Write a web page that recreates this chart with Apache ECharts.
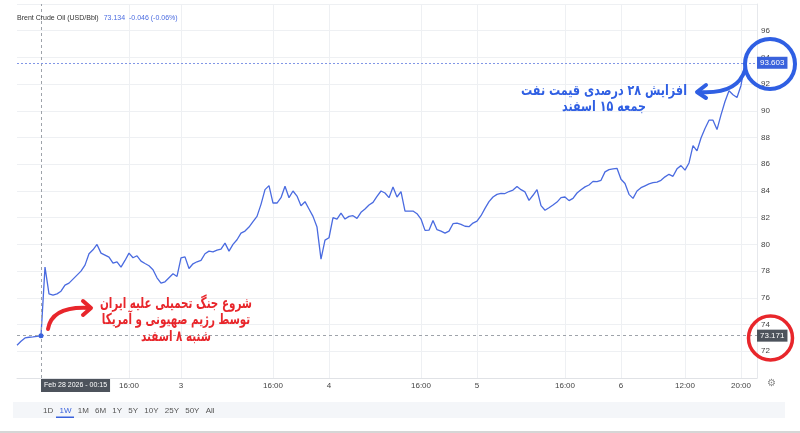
<!DOCTYPE html>
<html>
<head>
<meta charset="utf-8">
<script src="https://cdn.jsdelivr.net/npm/echarts@6/dist/echarts.min.js"></script>
<style>
html,body{margin:0;padding:0;background:#fff;}
#chart{width:800px;height:433px;}
</style>
</head>
<body>
<div id="chart"></div>
<script>
// ---- data ----
const priceValues = [
  72.45, 72.75, 73.0, 73.05, 73.08, 73.12, 73.17,
  78.3, 76.3, 76.2, 76.3, 76.5, 76.95, 77.1, 77.4, 77.7, 78.0,
  78.45, 79.3, 79.6, 80.0, 79.35, 79.2, 79.05, 78.6, 78.7, 78.3,
  78.8, 79.35, 79.0, 79.15, 78.75, 78.57, 78.4, 78.1, 77.5, 77.1,
  77.2, 77.5, 77.8, 77.6, 79.0, 79.07, 78.2, 78.55, 78.7, 78.8,
  79.3, 79.5, 79.45, 79.57, 79.65, 80.1, 79.5, 80.0, 80.35, 80.85,
  81.0, 81.3, 81.7, 82.1, 83.0, 84.1, 84.4, 83.1, 83.1, 83.5,
  84.36, 83.5, 84.0, 83.62, 82.9, 83.2, 82.65, 82.1, 81.3, 78.9,
  80.32, 80.5, 82.0, 81.9, 82.35, 81.9, 82.1, 82.15, 81.95, 82.4,
  82.65, 82.95, 83.15, 83.6, 84.0, 83.85, 83.5, 84.3, 83.55, 83.95,
  82.5, 82.5, 82.5, 82.3, 81.9, 81.05, 81.07, 81.8, 81.1, 81.0,
  80.85, 81.0, 81.55, 81.6, 81.5, 81.36, 81.33, 81.6, 81.75, 82.15,
  82.7, 83.2, 83.55, 83.75, 83.82, 83.81, 83.96, 84.07, 84.33, 84.1,
  83.93, 83.3, 83.68, 84.1, 82.9, 82.56, 82.75, 82.95, 83.17, 83.5,
  83.55, 83.28, 83.45, 83.85, 84.1, 84.31, 84.45, 84.72, 84.7, 84.8,
  85.43, 85.6, 85.65, 85.7, 84.88, 84.56, 83.75, 83.45, 84.0, 84.25,
  84.39, 84.53, 84.62, 84.67, 84.8, 85.06, 85.25, 85.1, 85.66, 85.9,
  85.56, 86.1, 87.4, 87.0, 87.97, 88.68, 89.3, 89.3, 88.6, 89.7,
  90.7, 91.5, 91.2, 91.0, 91.9, 93.603
];
const slotCount = 186;            // bar slots on the time axis (last few still empty)
const tickSlots = [28, 41, 64, 78, 101, 115, 137, 151, 167, 181];
const tickLabels = ['16:00', '3', '16:00', '4', '16:00', '5', '16:00', '6', '12:00', '20:00'];
const crossSlot = 6;
const crossLabel = 'Feb 28 2026 - 00:15';
const crossPrice = 73.171;
const lastPrice = 93.603;
const yMin = 70, yMax = 98, yStep = 2;
const headerName = 'Brent Crude Oil (USD/Bbl)';
const headerQuote = '73.134';
const headerChange = '-0.046 (-0.06%)';
const rangeButtons = ['1D', '1W', '1M', '6M', '1Y', '5Y', '10Y', '25Y', '50Y', 'All'];
const activeRange = '1W';
const noteRed = ['شروع جنگ تحمیلی علیه ایران', 'توسط رژیم صهیونی و آمریکا', 'شنبه ۸ اسفند'];
const noteBlue = ['افزایش ۲۸ درصدی قیمت نفت', 'جمعه ۱۵ اسفند'];

// ---- build ----
const categories = new Array(slotCount).fill('');
tickSlots.forEach((s, k) => { categories[s] = tickLabels[k]; });
const seriesData = categories.map((c, i) => (i < priceValues.length ? priceValues[i] : null));
const showTick = (idx, val) => val !== '';

const LINE = '#4a6be0';
const RED = '#e8262b';
const BLUE = '#2f5fe3';
const PF = '"DejaVu Sans", sans-serif';

const chart = echarts.init(document.getElementById('chart'), null, { renderer: 'canvas' });

const graphics = [
  { type: 'rect', shape: { x: 13, y: 402, width: 772, height: 16 }, style: { fill: '#f4f6f9' }, z: 1 },
  { type: 'rect', shape: { x: 0, y: 431, width: 800, height: 2 }, style: { fill: '#d6d6d6' }, z: 1 },
  {
    type: 'text', z: 2,
    style: {
      x: 40, y: 411, verticalAlign: 'middle',
      text: rangeButtons.map(b => (b === activeRange ? '{s|' + b + '}' : '{n|' + b + '}')).join(''),
      rich: {
        n: { fontSize: 8, fill: '#555', padding: [0, 3.1], fontFamily: 'Liberation Sans' },
        s: { fontSize: 8, fill: '#3a62dc', padding: [0, 3.1], fontFamily: 'Liberation Sans' }
      }
    }
  },
  { type: 'rect', shape: { x: 56, y: 416.5, width: 18, height: 1.5 }, style: { fill: '#3a62dc' }, z: 2 },
  { type: 'text', z: 2, style: { x: 771, y: 383, text: '⚙', fontSize: 10, fill: '#888', align: 'center', verticalAlign: 'middle' } },
  // annotations
  { type: 'circle', z: 50, shape: { cx: 770.5, cy: 338, r: 22 }, style: { fill: 'none', stroke: RED, lineWidth: 3.5 } },
  { type: 'circle', z: 50, shape: { cx: 770, cy: 64, r: 25 }, style: { fill: 'none', stroke: BLUE, lineWidth: 4 } },
  { type: 'bezierCurve', z: 50, shape: { x1: 48, y1: 329, x2: 89, y2: 308, cpx1: 52, cpy1: 306 }, style: { fill: 'none', stroke: RED, lineWidth: 4, lineCap: 'round' } },
  { type: 'polyline', z: 50, shape: { points: [[83, 301], [91, 308], [83, 315]] }, style: { fill: 'none', stroke: RED, lineWidth: 4, lineCap: 'round', lineJoin: 'round' } },
  { type: 'bezierCurve', z: 50, shape: { x1: 745, y1: 70, x2: 698, y2: 92, cpx1: 737, cpy1: 95 }, style: { fill: 'none', stroke: BLUE, lineWidth: 4, lineCap: 'round' } },
  { type: 'polyline', z: 50, shape: { points: [[706, 85], [697, 92], [706, 98]] }, style: { fill: 'none', stroke: BLUE, lineWidth: 4, lineCap: 'round', lineJoin: 'round' } }
];
noteRed.forEach((t, k) => graphics.push({
  type: 'text', z: 50, x: 176, y: 304 + k * 16.5, scaleX: 0.69,
  style: { x: 0, y: 0, text: t, fill: RED, font: 'bold 15px ' + PF, align: 'center', verticalAlign: 'middle' }
}));
noteBlue.forEach((t, k) => graphics.push({
  type: 'text', z: 50, x: 604, y: 91 + k * 16, scaleX: 0.77,
  style: { x: 0, y: 0, text: t, fill: BLUE, font: 'bold 14.5px ' + PF, align: 'center', verticalAlign: 'middle' }
}));

chart.setOption({
  animation: false,
  backgroundColor: '#ffffff',
  title: {
    left: 17, top: 9, padding: 0,
    text: '{a|' + headerName + '} {b|' + headerQuote + '  ' + headerChange + '}',
    textStyle: {
      fontWeight: 'normal',
      rich: {
        a: { fontSize: 7, color: '#333', fontWeight: 'normal', fontFamily: 'Liberation Sans' },
        b: { fontSize: 7, color: '#4a6be0', fontWeight: 'normal', fontFamily: 'Liberation Sans' }
      }
    }
  },
  grid: { left: 17, right: 43, top: 4, bottom: 55 },
  xAxis: {
    type: 'category',
    data: categories,
    boundaryGap: false,
    axisLine: { lineStyle: { color: '#e0e2e6' } },
    axisTick: { show: false },
    axisLabel: { interval: showTick, fontSize: 8, color: '#444', margin: 4, fontFamily: 'Liberation Sans' },
    splitLine: { show: true, interval: showTick, lineStyle: { color: '#eef0f3' } }
  },
  yAxis: {
    type: 'value',
    position: 'right',
    min: yMin, max: yMax, interval: yStep,
    axisLine: { show: true, lineStyle: { color: '#e6e8ec' } },
    axisTick: { show: false },
    axisLabel: { showMinLabel: false, showMaxLabel: false, fontSize: 8, color: '#444', margin: 4, fontFamily: 'Liberation Sans' },
    splitLine: { lineStyle: { color: '#eef0f3' } }
  },
  series: [{
    type: 'line',
    data: seriesData,
    showSymbol: false,
    lineStyle: { color: LINE, width: 1.3 },
    markLine: {
      symbol: ['none', 'none'], silent: true,
      data: [
        {
          xAxis: crossSlot,
          lineStyle: { color: '#9ea3aa', type: [3, 3], width: 1 },
          label: { show: true, position: 'start', formatter: crossLabel, color: '#fff', backgroundColor: '#4d535c', padding: [3, 3], fontSize: 7, align: 'left', distance: 1, fontFamily: 'Liberation Sans' }
        },
        {
          yAxis: lastPrice,
          lineStyle: { color: '#8196e6', type: [2, 2], width: 1 },
          label: { show: true, position: 'end', formatter: lastPrice.toFixed(3), color: '#fff', backgroundColor: '#3a62dc', padding: [2, 3], fontSize: 8, distance: 0, fontFamily: 'Liberation Sans' }
        },
        {
          yAxis: crossPrice,
          lineStyle: { color: '#9ea3aa', type: [3, 3], width: 1 },
          label: { show: true, position: 'end', formatter: crossPrice.toFixed(3), color: '#fff', backgroundColor: '#4d535c', padding: [2, 3], fontSize: 8, distance: 0, fontFamily: 'Liberation Sans' }
        }
      ]
    },
    markPoint: {
      symbol: 'circle', symbolSize: 5, silent: true,
      itemStyle: { color: '#3a62dc' },
      label: { show: false },
      data: [{ coord: [crossSlot, priceValues[crossSlot]] }]
    }
  }],
  graphic: graphics
});
</script>
</body>
</html>
